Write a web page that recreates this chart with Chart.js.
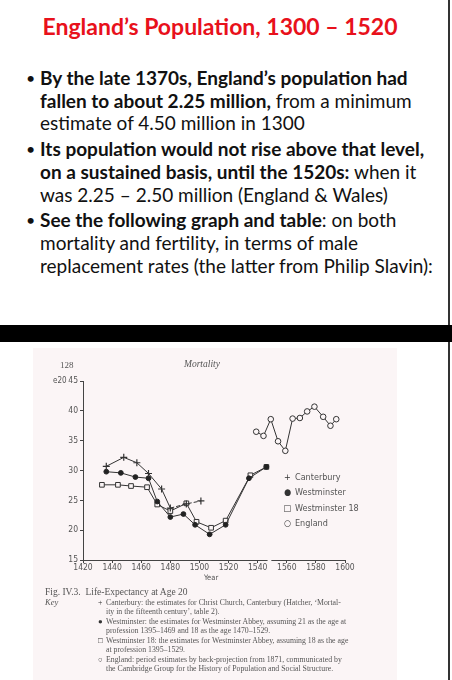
<!DOCTYPE html>
<html>
<head>
<meta charset="utf-8">
<script src="https://cdn.jsdelivr.net/npm/chart.js@4/dist/chart.umd.min.js"></script>
<style>
  html, body { margin: 0; padding: 0; background: #fff; }
  body { width: 452px; height: 680px; position: relative; overflow: hidden; font-family: Lato, "Noto Sans", sans-serif; }
  #edge { position: absolute; left: 448px; top: 0; width: 2px; height: 680px; background: #333; }
  #band { position: absolute; left: 0; top: 325px; width: 452px; height: 17px; background: #000; }
  h1 { position: absolute; left: 0; width: 440px; top: 12px; margin: 0; text-align: center;
       font-size: 23px; line-height: 28px; color: #e8111b; font-weight: 700; }
  ul { position: absolute; left: 40px; top: 67px; width: 405px; margin: 0; padding: 0; list-style: none; }
  li { position: relative; font-size: 19px; line-height: 22.7px; color: #111; margin-bottom: 3px; }
  li::before { content: "•"; position: absolute; left: -14px; top: 0; font-size: 16px; }
  b { font-weight: 700; }
  #page { position: absolute; left: 33px; top: 348px; width: 364px; height: 332px; background: #fbf5f6; }
  #chart { position: absolute; left: 0; top: 0; }
  .lab { position: absolute; color: #555; font-family: "DejaVu Sans Condensed", "DejaVu Sans", sans-serif; font-size: 8.5px; white-space: nowrap; }
  .serif { font-family: "Liberation Serif", "DejaVu Serif", serif; color: #555; }
  #legend { position: absolute; left: 250px; top: 122px; font-family: "DejaVu Sans Condensed", "DejaVu Sans", sans-serif; font-size: 9px; color: #555; }
  #legend div { height: 15.3px; line-height: 15.3px; white-space: nowrap; }
  #legend span { display: inline-block; width: 9px; text-align: center; margin-right: 3px; color: #333; }
  #caption { position: absolute; left: 12px; top: 238px; font-size: 7.8px; line-height: 9.2px; white-space: nowrap; }
  #caption .fig { font-size: 9.5px; line-height: 12px; }
  #caption .row { position: relative; padding-left: 61px; margin-bottom: 0.5px; }
  #caption .row i.key { position: absolute; left: 0; top: 0; font-size: 8.5px; }
  #caption .row .m { position: absolute; left: 53px; top: 0; color: #333; }
</style>
</head>
<body>
<div id="edge"></div>
<h1>England’s Population, 1300 – 1520</h1>
<ul>
  <li><b>By the late 1370s, England’s population had fallen to about 2.25 million,</b> from a minimum estimate of 4.50 million in 1300</li>
  <li><b>Its population would not rise above that level, on a sustained basis, until the 1520s:</b> when it was 2.25 – 2.50 million (England &amp; Wales)</li>
  <li><b>See the following graph and table</b>: on both mortality and fertility, in terms of male replacement rates (the latter from Philip Slavin):</li>
</ul>
<div id="band"></div>

<div id="page">
  <canvas id="chart" width="364" height="242"></canvas>
  <div class="lab serif" style="left:27px; top:12px; font-size:9px;">128</div>
  <div class="lab serif" style="left:151px; top:11px; font-size:9.5px; font-style:italic;">Mortality</div>
  <div class="lab" style="left:20px; top:28px; font-size:8px;">e20</div>
  <div class="lab" style="left:171px; top:225px; font-size:7.5px;">Year</div>
  <div id="legend"></div>
  <div id="caption" class="serif">
    <div class="fig">Fig. IV.3.&nbsp; Life-Expectancy at Age 20</div>
    <div class="row"><i class="key">Key</i><span class="m">+</span>Canterbury: the estimates for Christ Church, Canterbury (Hatcher, ‘Mortal-<br>ity in the fifteenth century’, table 2).</div>
    <div class="row"><span class="m">●</span>Westminster: the estimates for Westminster Abbey, assuming 21 as the age at<br>profession 1395–1469 and 18 as the age 1470–1529.</div>
    <div class="row"><span class="m">□</span>Westminster 18: the estimates for Westminster Abbey, assuming 18 as the age<br>at profession 1395–1529.</div>
    <div class="row"><span class="m">○</span>England: period estimates by back-projection from 1871, communicated by<br>the Cambridge Group for the History of Population and Social Structure.</div>
  </div>
</div>

<script>
// life expectancy at age 20 (e20)
const canterburyYears = [1436, 1448, 1457, 1465, 1474, 1480, 1491, 1501];
const canterburyE20   = [30.7, 32.2, 31.3, 29.5, 26.9, 23.7, 24.4, 24.9];

const westminsterYears = [1436, 1446, 1456, 1465, 1471, 1480, 1489, 1497, 1507, 1518, 1534, 1546];
const westminsterE20   = [29.8, 29.6, 28.9, 28.7, 24.8, 22.2, 22.7, 20.9, 19.3, 20.9, 28.7, 30.6];

const westm18Years = [1433, 1444, 1453, 1464, 1471, 1480, 1491, 1498, 1508, 1518, 1535, 1546];
const westm18E20   = [27.6, 27.6, 27.4, 27.2, 24.3, 23.2, 24.5, 21.4, 20.4, 21.6, 29.2, 30.6];

const englandYears = [1539, 1544, 1549, 1554, 1559, 1564, 1569, 1574, 1579, 1585, 1590, 1594];
const englandE20   = [36.5, 35.8, 38.6, 34.9, 33.3, 38.7, 38.8, 39.9, 40.7, 39.0, 37.5, 38.6];

const seriesNames = ['Canterbury', 'Westminster', 'Westminster 18', 'England'];
const legendMarks = ['+', '●', '□', '○'];

const yearTicks = [1420, 1440, 1460, 1480, 1500, 1520, 1540, 1560, 1580, 1600];
const e20Ticks = [15, 20, 25, 30, 35, 40, 45];

const paper = '#fbf5f6';
const ink = '#333';

function pts(xs, ys) {
  return xs.map((x, i) => ({ x: x, y: ys[i] }));
}

// the printed x axis has a small gap between the two panels
const axisBreak = {
  id: 'axisBreak',
  afterDraw(chart) {
    const sx = chart.scales.x;
    const a = sx.getPixelForValue(1546.8);
    const b = sx.getPixelForValue(1549.4);
    const ctx = chart.ctx;
    ctx.save();
    ctx.fillStyle = paper;
    ctx.fillRect(a, chart.chartArea.bottom - 2, b - a, 4);
    ctx.restore();
  }
};

const tickFont = { family: '"DejaVu Sans Condensed", "DejaVu Sans", sans-serif', size: 8.5 };

const chart = new Chart(document.getElementById('chart').getContext('2d'), {
  type: 'line',
  data: {
    datasets: [
      {
        label: seriesNames[0],
        data: pts(canterburyYears, canterburyE20),
        borderColor: ink, borderWidth: 1,
        pointStyle: 'cross', pointRadius: 3.5, pointBorderWidth: 1.2,
        pointBorderColor: ink, pointBackgroundColor: ink,
        segment: { borderDash: c => c.p0DataIndex >= 5 ? [4, 2] : undefined }
      },
      {
        label: seriesNames[1],
        data: pts(westminsterYears, westminsterE20),
        borderColor: ink, borderWidth: 1,
        pointStyle: 'circle', pointRadius: 2.4, pointBorderWidth: 1,
        pointBorderColor: '#222', pointBackgroundColor: '#222'
      },
      {
        label: seriesNames[2],
        data: pts(westm18Years, westm18E20),
        borderColor: ink, borderWidth: 1,
        pointStyle: 'rect', pointRadius: 3.3, pointBorderWidth: 1,
        pointBorderColor: ink, pointBackgroundColor: paper
      },
      {
        label: seriesNames[3],
        data: pts(englandYears, englandE20),
        borderColor: ink, borderWidth: 1,
        pointStyle: 'circle', pointRadius: 2.8, pointBorderWidth: 1,
        pointBorderColor: ink, pointBackgroundColor: paper
      }
    ]
  },
  options: {
    responsive: false,
    animation: false,
    layout: { padding: { top: 33, right: 52, bottom: 0, left: 0 } },
    plugins: { legend: { display: false }, tooltip: { enabled: false } },
    elements: { line: { tension: 0, fill: false } },
    scales: {
      x: {
        type: 'linear', min: 1420, max: 1600,
        afterFit: s => { s.height = 30; },
        afterBuildTicks: s => { s.ticks = yearTicks.map(v => ({ value: v })); },
        ticks: { color: '#555', font: tickFont, padding: 0, maxRotation: 0, callback: v => String(v) },
        grid: { drawOnChartArea: false, tickLength: 3, color: '#444' },
        border: { color: '#444', width: 1 }
      },
      y: {
        min: 15, max: 45,
        afterFit: s => { s.width = 50; },
        afterBuildTicks: s => { s.ticks = e20Ticks.map(v => ({ value: v })); },
        ticks: { color: '#555', font: tickFont, padding: 2 },
        grid: { drawOnChartArea: false, tickLength: 3, color: '#444' },
        border: { color: '#444', width: 1 }
      }
    }
  },
  plugins: [axisBreak]
});

// key inside the plot, built from the chart's own datasets
const legend = document.getElementById('legend');
chart.data.datasets.forEach((ds, i) => {
  const row = document.createElement('div');
  row.innerHTML = '<span>' + legendMarks[i] + '</span>' + ds.label;
  legend.appendChild(row);
});
</script>
</body>
</html>
